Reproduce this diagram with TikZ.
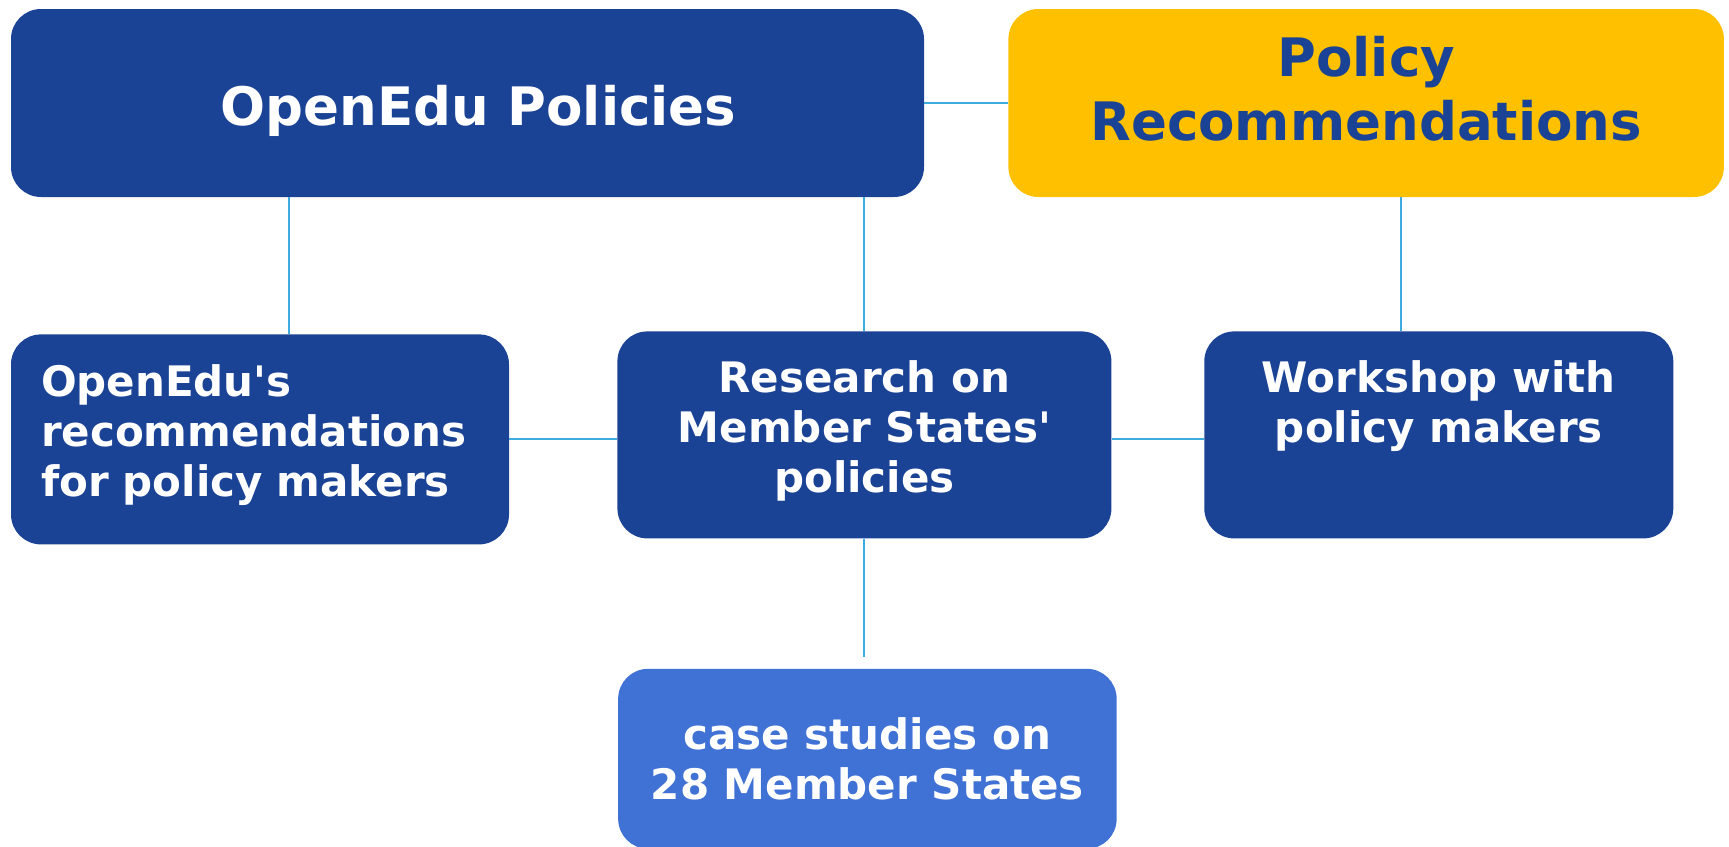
\documentclass[tikz,border=0pt]{standalone}
\usepackage{fontspec}
\setmainfont{DejaVu Sans}[Ligatures=TeXOff]
\usetikzlibrary{positioning}
\definecolor{darkblue}{HTML}{1A4295}
\definecolor{paleblue}{HTML}{4071D4}
\definecolor{gold}{HTML}{FFC000}
\definecolor{linkblue}{HTML}{3DABE0}
\begin{document}
\begin{tikzpicture}[x=1pt,y=1pt,
  main node/.style={rectangle,rounded corners=30pt,fill=darkblue,text=white,align=center,
    font=\bfseries\fontsize{42}{50}\selectfont},
  title node/.style={main node,minimum height=188pt,font=\bfseries\fontsize{53}{64}\selectfont},
  link/.style={draw=linkblue,line width=2pt}]
  \useasboundingbox (0,0) rectangle (1729,-846);

  \node[title node,minimum width=913pt,text height=44pt,text depth=0pt] (policies) at (467.5,-103) {\hspace*{22pt}OpenEdu Policies};
  \node[title node,fill=gold,text=darkblue,minimum width=715.5pt,text depth=30pt] (recs) [right=84pt of policies] {Policy\\Recommendations};

  \node[main node,minimum width=498pt,minimum height=210pt,text width=438pt,align=left,text depth=117pt] (advice) [below right=137pt and 0pt of policies.south west] {OpenEdu's\\recommendations\\for policy makers};
  \node[main node,minimum width=494pt,minimum height=207pt,text depth=17pt] (research) [right=108pt of advice,yshift=4.5pt] {Research on\\Member States'\\policies};
  \node[main node,minimum width=469pt,minimum height=207pt,text depth=67pt] (workshop) [right=92.5pt of research] {Workshop with\\policy makers};
  \node[main node,fill=paleblue,minimum width=498.5pt,minimum height=180pt] (cases) [below=130pt of research,xshift=3pt] {case studies on\\28 Member States};

  \path[every edge/.style=link]
    (policies) edge (recs)
    ([xshift=29pt]advice.north) edge ([xshift=29pt]advice.north |- policies.south)
    (research) edge (research |- policies.south)
    ([xshift=-38pt]workshop.north) edge ([xshift=-38pt]workshop.north |- recs.south)
    (advice) edge (advice -| research.west)
    (research.east |- advice) edge (workshop.west |- advice)
    (research.south) edge[shorten >=12pt] (research.south |- cases.north);
\end{tikzpicture}
\end{document}
